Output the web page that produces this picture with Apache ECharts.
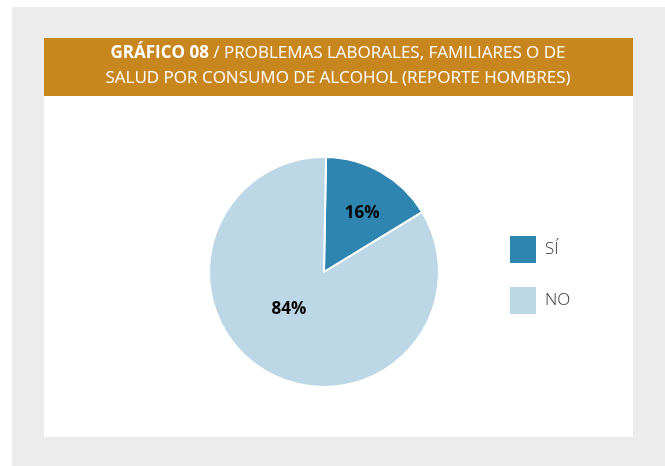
<!DOCTYPE html>
<html>
<head>
<meta charset="utf-8">
<script src="https://cdn.jsdelivr.net/npm/echarts@6/dist/echarts.min.js"></script>
<style>
  html, body { margin: 0; padding: 0; background: #fff; }
  #chart { width: 665px; height: 466px; }
</style>
</head>
<body>
<div id="chart"></div>
<script>
// data
var categories = ['SÍ', 'NO'];
var values = [16, 84];
var sliceColors = ['#2e86b0', '#bcd7e5'];
var labelOffsets = [[8, -6], [-5, -15]];

var chart = echarts.init(document.getElementById('chart'));

var pieData = categories.map(function (name, i) {
    return {
        name: name,
        value: values[i],
        itemStyle: { color: sliceColors[i] },
        label: { offset: labelOffsets[i] }
    };
});

chart.setOption({
    animation: false,
    title: {
        text: '{b|GRÁFICO 08} / PROBLEMAS LABORALES, FAMILIARES O DE\nSALUD POR CONSUMO DE ALCOHOL (REPORTE HOMBRES)',
        left: 338,
        top: 41,
        textAlign: 'center',
        padding: 0,
        textStyle: {
            color: '#fff',
            fontFamily: 'Open Sans',
            fontSize: 17,
            fontWeight: 'normal',
            lineHeight: 25,
            rich: {
                b: { color: '#fff', fontFamily: 'Open Sans', fontSize: 17, fontWeight: 'bold', lineHeight: 25 }
            }
        }
    },
    graphic: [
        { type: 'rect', z: -10, shape: { x: 12, y: 7, width: 653, height: 459 }, style: { fill: '#ececec' } },
        { type: 'rect', z: -9, shape: { x: 44, y: 38, width: 589, height: 399 }, style: { fill: '#ffffff' } },
        { type: 'rect', z: -8, shape: { x: 44, y: 38, width: 589, height: 58 }, style: { fill: '#c8861f' } }
    ],
    legend: {
        orient: 'vertical',
        left: 508,
        top: 234,
        padding: 0,
        itemWidth: 28,
        itemHeight: 29,
        itemGap: 20,
        icon: 'rect',
        textStyle: { fontFamily: 'Open Sans', fontSize: 17, fontWeight: 300, color: '#333', padding: [0, 0, 0, 3] },
        data: categories
    },
    series: [{
        type: 'pie',
        center: [324, 272],
        radius: 115,
        startAngle: 89,
        clockwise: true,
        itemStyle: { borderColor: '#fff', borderWidth: 2 },
        label: {
            show: true,
            position: 'inside',
            formatter: '{c}%',
            fontFamily: 'Open Sans',
            fontSize: 17,
            fontWeight: 'bold',
            color: '#000'
        },
        labelLine: { show: false },
        emphasis: { disabled: true },
        data: pieData
    }]
});
</script>
</body>
</html>
